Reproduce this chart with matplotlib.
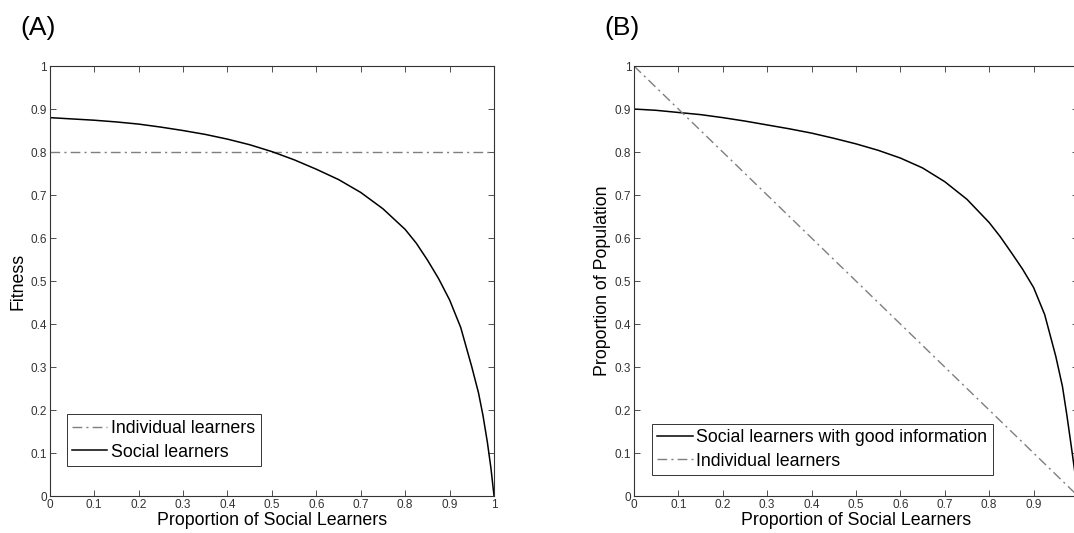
import numpy as np
from matplotlib import pyplot as plt

plt.rcParams['font.family'] = ['Liberation Sans', 'DejaVu Sans']

# (A) fitness vs proportion of social learners
a_x = [0, 0.05, 0.1, 0.15, 0.2, 0.25, 0.3, 0.35, 0.4, 0.45, 0.5, 0.55, 0.6,
       0.65, 0.7, 0.75, 0.8, 0.825, 0.85, 0.875, 0.9, 0.925, 0.95, 0.965,
       0.975, 0.985, 0.993, 1.0]
a_social = [0.880, 0.877, 0.874, 0.870, 0.865, 0.858, 0.850, 0.841, 0.830,
            0.817, 0.801, 0.782, 0.760, 0.736, 0.706, 0.668, 0.620, 0.588,
            0.549, 0.506, 0.456, 0.392, 0.300, 0.240, 0.188, 0.125, 0.065, 0.0]
a_indiv_x = [0, 1]
a_indiv = [0.8, 0.8]

# (B) proportion of population
b_x = a_x
b_social = [0.900, 0.897, 0.892, 0.887, 0.880, 0.872, 0.863, 0.854, 0.844,
            0.832, 0.819, 0.804, 0.786, 0.763, 0.731, 0.690, 0.636, 0.603,
            0.566, 0.528, 0.485, 0.422, 0.325, 0.255, 0.188, 0.115, 0.055, 0.0]
b_indiv_x = [0, 1]
b_indiv = [1, 0]

ticks = np.round(np.arange(0, 1.01, 0.1), 1)
tick_labels = ['0', '0.1', '0.2', '0.3', '0.4', '0.5', '0.6', '0.7', '0.8', '0.9', '1']

dashdot = (0, (7, 3, 1.5, 3))
grey = '#7f7f7f'

fig = plt.figure(figsize=(10.74, 5.33), dpi=100)
axA = fig.add_axes([0.0463, 0.0694, 0.4137, 0.8067])
axB = fig.add_axes([0.5903, 0.0694, 0.4134, 0.8067])

def style(ax, xlabels):
    ax.set_xlim(0, 1)
    ax.set_ylim(0, 1)
    ax.set_xticks(ticks)
    ax.set_yticks(ticks)
    ax.set_xticklabels(xlabels)
    ax.set_yticklabels(tick_labels)
    ax.tick_params(direction='in', top=True, right=True, length=4, width=0.6,
                   labelsize=8.5, colors='#333333', pad=2)
    for s in ax.spines.values():
        s.set_linewidth(0.8)
        s.set_color('#333333')
    ax.set_xlabel('Proportion of Social Learners', fontsize=12.8, labelpad=1)

def legend(ax, anchor):
    leg = ax.legend(loc='lower left', bbox_to_anchor=anchor, borderaxespad=0,
                    fontsize=12.8, fancybox=False, edgecolor='#333333',
                    handlelength=2.0, handletextpad=0.2, labelspacing=0.38,
                    borderpad=0.3, framealpha=1)
    leg.get_frame().set_linewidth(0.7)

style(axA, tick_labels)
axA.plot(a_indiv_x, a_indiv, color=grey, linestyle=dashdot, lw=1,
         label='Individual learners')
axA.plot(a_x, a_social, color='black', lw=1.1, label='Social learners')
axA.set_ylabel('Fitness', fontsize=12.8, labelpad=3)
legend(axA, (0.038, 0.07))
fig.text(0.019, 0.948, '(A)', fontsize=19, va='center')

style(axB, tick_labels[:-1] + [''])
axB.plot(b_x, b_social, color='black', lw=1.1,
         label='Social learners with good information')
axB.plot(b_indiv_x, b_indiv, color=grey, linestyle=dashdot, lw=1,
         label='Individual learners')
axB.set_ylabel('Proportion of Population', fontsize=12.8, labelpad=3)
legend(axB, (0.04, 0.049))
fig.text(0.563, 0.948, '(B)', fontsize=19, va='center')

fig.savefig('out.png', dpi=100)
